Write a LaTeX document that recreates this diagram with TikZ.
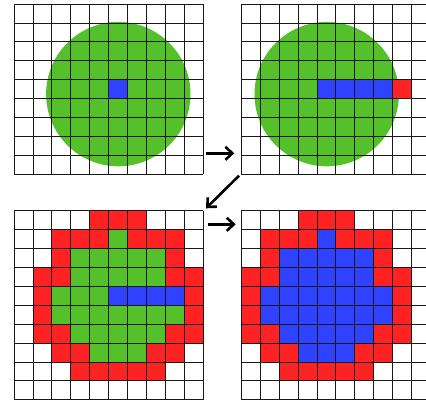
\documentclass[tikz,border=0pt]{standalone}
\usetikzlibrary{arrows.meta}
\definecolor{cgreen}{RGB}{84,192,42}
\definecolor{cblue}{RGB}{46,66,255}
\definecolor{cred}{RGB}{255,34,34}
\tikzset{
  gridline/.style={black!90,line width=0.75pt},
  flow/.style={line width=2.6pt,-{Straight Barb[length=7pt,width=13pt]}},
}
\begin{document}
\begin{tikzpicture}[x=1pt,y=-1pt]
\useasboundingbox (0,0) rectangle (426,405);
\def\cs{18.9}
% ---------- panel 1 (top left)
\fill[cgreen] (118.3,94.1) circle (72.2);
\fill[cblue] ({14+5*\cs},{4+4*\cs}) rectangle ++(\cs,\cs);
\foreach \i in {0,...,10} \draw[gridline] ({14+\i*\cs},4) -- ++(0,{9*\cs});
\foreach \j in {0,...,9} \draw[gridline] (14,{4+\j*\cs}) -- ++({10*\cs},0);
% ---------- panel 2 (top right)
\begin{scope}
\clip (241,0) rectangle (426,405);
\fill[cgreen] (326.7,94.1) circle (72.2);
\foreach \c in {4,...,7} \fill[cblue] ({241.3+\c*\cs},{4+4*\cs}) rectangle ++(\cs,\cs);
\fill[cred] ({241.3+8*\cs},{4+4*\cs}) rectangle ++(\cs,\cs);
\foreach \i in {0,...,9} \draw[gridline] ({241.3+\i*\cs},4) -- ++(0,{9*\cs});
\foreach \j in {0,...,9} \draw[gridline] (241.3,{4+\j*\cs}) -- ++({10*\cs},0);
\end{scope}
% ---------- panel 3 (bottom left)
\foreach \r/\c in {0/4,0/5,0/6,1/2,1/3,1/4,1/6,1/7,1/8,2/2,2/8,3/1,3/2,3/8,3/9,4/1,4/9,5/1,5/9,6/1,6/2,6/8,6/9,7/2,7/3,7/7,7/8,8/3,8/4,8/5,8/6,8/7}
  \fill[cred] ({14+\c*\cs},{210.7+\r*\cs}) rectangle ++(\cs,\cs);
\foreach \r/\c in {1/5,2/3,2/4,2/5,2/6,2/7,3/3,3/4,3/5,3/6,3/7,4/2,4/3,4/4,5/2,5/3,5/4,5/5,5/6,5/7,5/8,6/3,6/4,6/5,6/6,6/7,7/4,7/5,7/6}
  \fill[cgreen] ({14+\c*\cs},{210.7+\r*\cs}) rectangle ++(\cs,\cs);
\foreach \c in {5,...,8} \fill[cblue] ({14+\c*\cs},{210.7+4*\cs}) rectangle ++(\cs,\cs);
\foreach \i in {0,...,10} \draw[gridline] ({14+\i*\cs},210.7) -- ++(0,{10*\cs});
\foreach \j in {0,...,10} \draw[gridline] (14,{210.7+\j*\cs}) -- ++({10*\cs},0);
% ---------- panel 4 (bottom right)
\begin{scope}
\clip (241,0) rectangle (426,405);
\foreach \r/\c in {0/4,0/5,0/6,1/2,1/3,1/4,1/6,1/7,1/8,2/2,2/8,3/1,3/2,3/8,3/9,4/1,4/9,5/1,5/9,6/1,6/2,6/8,6/9,7/2,7/3,7/7,7/8,8/3,8/4,8/5,8/6,8/7}
  \fill[cred] ({241.3+(\c-1)*\cs},{210.7+\r*\cs}) rectangle ++(\cs,\cs);
\foreach \r/\c in {1/5,2/3,2/4,2/5,2/6,2/7,3/3,3/4,3/5,3/6,3/7,4/2,4/3,4/4,5/2,5/3,5/4,5/5,5/6,5/7,5/8,6/3,6/4,6/5,6/6,6/7,7/4,7/5,7/6,4/5,4/6,4/7,4/8}
  \fill[cblue] ({241.3+(\c-1)*\cs},{210.7+\r*\cs}) rectangle ++(\cs,\cs);
\foreach \i in {0,...,9} \draw[gridline] ({241.3+\i*\cs},210.7) -- ++(0,{10*\cs});
\foreach \j in {0,...,10} \draw[gridline] (241.3,{210.7+\j*\cs}) -- ++({10*\cs},0);
\end{scope}
% ---------- arrows
\coordinate (a1s) at (206.3,153.3);
\coordinate (a1e) at (234.3,153.3);
\coordinate (a2s) at (239,175.7);
\coordinate (a2e) at (206,208.3);
\coordinate (a3s) at (208.3,224.3);
\coordinate (a3e) at (235.7,224.3);
\draw[flow] (a1s) -- (a1e);
\draw[flow] (a2s) -- (a2e);
\draw[flow] (a3s) -- (a3e);
\end{tikzpicture}
\end{document}
